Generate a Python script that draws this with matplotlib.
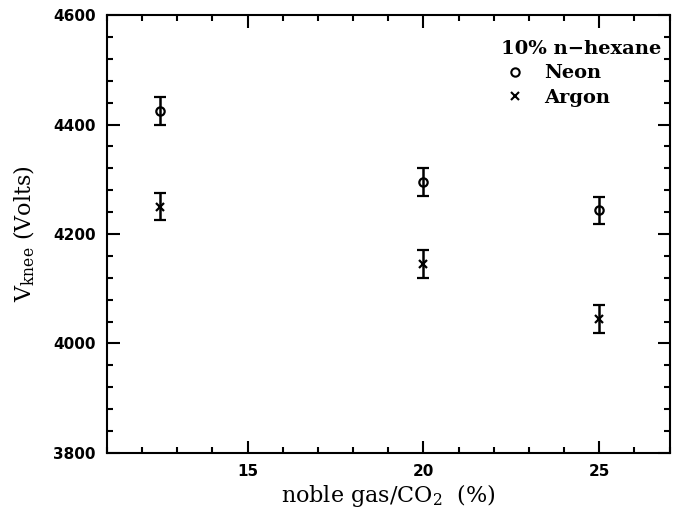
import numpy as np
import matplotlib.pyplot as plt
from matplotlib.ticker import MultipleLocator
from matplotlib.lines import Line2D

plt.rcParams['mathtext.fontset'] = 'dejavuserif'

# noble gas fraction (%) and knee voltages (V)
x_pos = [12.5, 20, 25]
neon_v = [4425, 4295, 4243]
neon_err = [25, 25, 25]
argon_v = [4250, 4145, 4045]
argon_err = [25, 25, 25]

fig = plt.figure(figsize=(6.73, 5.2), dpi=100)
ax = fig.add_axes([0.159, 0.129, 0.836, 0.842])

ax.errorbar(x_pos, neon_v, yerr=neon_err, fmt='o', mfc='none', mec='black',
            mew=1.6, ms=6, ecolor='black', elinewidth=1.8, capsize=4, capthick=1.8)
ax.errorbar(x_pos, argon_v, yerr=argon_err, fmt='x', color='black',
            mew=1.6, ms=6, ecolor='black', elinewidth=1.8, capsize=4, capthick=1.8)

ax.set_xlim(11, 27)
ax.set_ylim(3800, 4600)
ax.xaxis.set_major_locator(MultipleLocator(5))
ax.xaxis.set_minor_locator(MultipleLocator(1))
ax.yaxis.set_major_locator(MultipleLocator(200))
ax.yaxis.set_minor_locator(MultipleLocator(40))
ax.tick_params(which='both', direction='in', top=True, right=True, width=1.5)
ax.tick_params(which='major', length=9, labelsize=11, pad=8)
ax.tick_params(which='minor', length=4.5)
for lab in ax.get_xticklabels() + ax.get_yticklabels():
    lab.set_fontweight('bold')
for sp in ax.spines.values():
    sp.set_linewidth(1.5)

ax.set_xlabel('noble gas/CO$_2$  (%)', family='DejaVu Serif', fontsize=16, labelpad=2)
ax.set_ylabel('V$_{\\mathrm{knee}}$ (Volts)', family='DejaVu Serif', fontsize=16, labelpad=12)

handles = [Line2D([], [], ls='none', marker='o', mfc='none', mec='black', mew=1.5, ms=6),
           Line2D([], [], ls='none', marker='x', color='black', mew=1.5, ms=6)]
leg = ax.legend(handles, ['Neon', 'Argon'], title='10% n\u2212hexane', loc='upper right',
                frameon=False, handletextpad=0.8, handlelength=1.4, labelspacing=0.35,
                prop={'family': 'DejaVu Serif', 'weight': 'bold', 'size': 14},
                bbox_to_anchor=(1.01, 0.975), borderaxespad=0.3)
leg.get_title().set_fontfamily('DejaVu Serif')
leg.get_title().set_fontweight('bold')
leg.get_title().set_fontsize(14)
leg._legend_box.align = 'left'

fig.savefig('out.png', dpi=100)
